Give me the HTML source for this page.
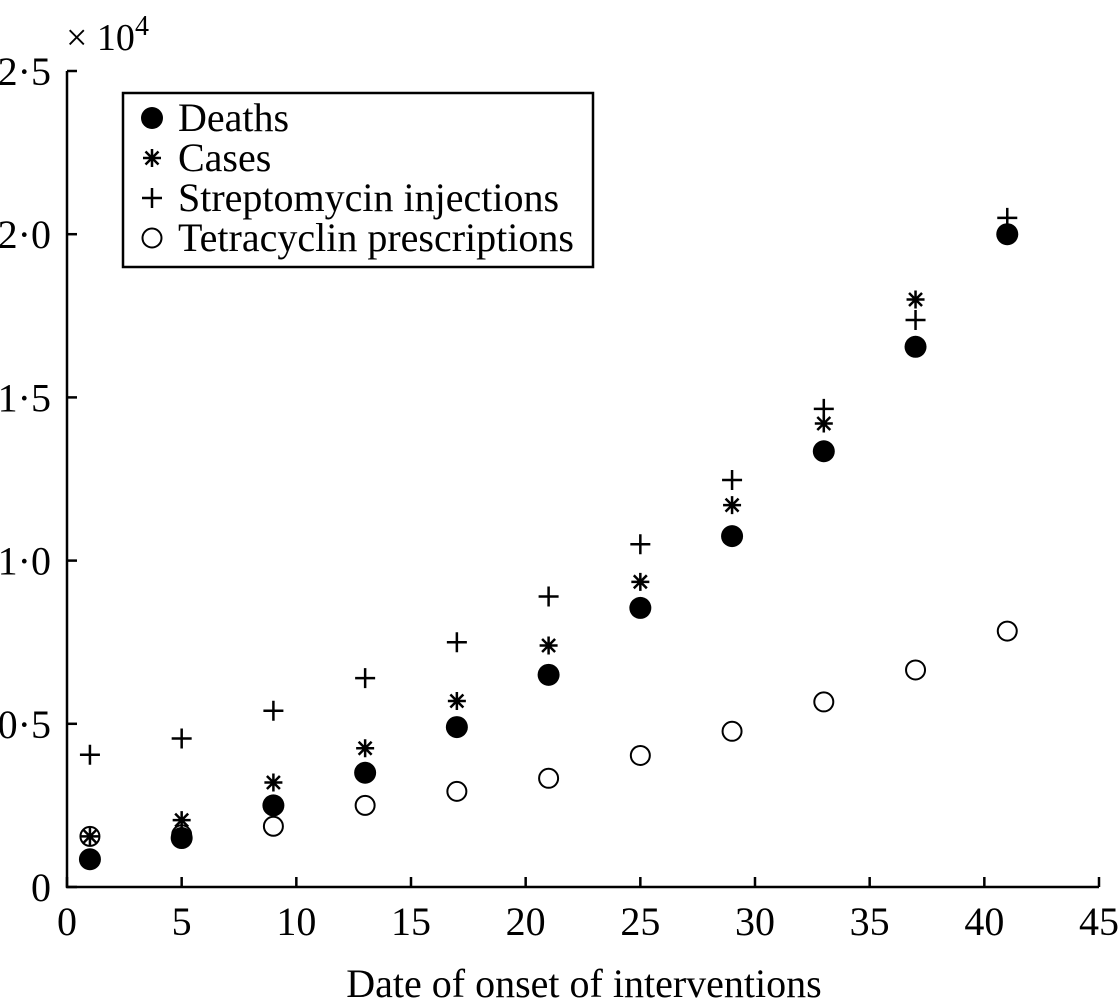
<!DOCTYPE html>
<html><head><meta charset="utf-8"><style>
body{margin:0;background:#fff}
text{font-family:"Liberation Serif",serif;fill:#000}
</style></head><body>
<svg id="c" width="1119" height="1003" xmlns="http://www.w3.org/2000/svg"></svg>
<script>
const xs=[1,5,9,13,17,21,25,29,33,37,41];
const deaths=[0.085,0.15,0.25,0.35,0.49,0.65,0.855,1.075,1.335,1.655,2.0];
const casesX=[1,5,9,13,17,21,25,29,33,37];
const cases=[0.155,0.205,0.32,0.425,0.57,0.74,0.935,1.17,1.42,1.8];
const strep=[0.405,0.455,0.54,0.64,0.75,0.89,1.05,1.247,1.465,1.737,2.05];
const tetra=[0.155,0.16,0.186,0.25,0.293,0.333,0.403,0.477,0.567,0.665,0.784];
const xTicks=[0,5,10,15,20,25,30,35,40,45];
const yTicks=[0,0.5,1.0,1.5,2.0,2.5];
const yLabels=['0','0·5','1·0','1·5','2·0','2·5'];
const NS='http://www.w3.org/2000/svg';
const svg=document.getElementById('c');
const X=v=>67+v*(1099-67)/45, Y=v=>887-v*(887-71)/2.5;
function el(t,a,p){const e=document.createElementNS(NS,t);for(const k in a)e.setAttribute(k,a[k]);(p||svg).appendChild(e);return e;}
const ax=el('g',{stroke:'#000','stroke-width':2.5,fill:'none'});


el('line',{x1:67,y1:71,x2:67,y2:888},ax);
el('line',{x1:66,y1:887,x2:1099,y2:887},ax);
xTicks.forEach(t=>{el('line',{x1:X(t),y1:887,x2:X(t),y2:877},ax);
const tx=el('text',{x:X(t),y:935,'font-size':40,'text-anchor':'middle'});tx.textContent=t;

});
yTicks.forEach((t,i)=>{el('line',{x1:67,y1:Y(t),x2:77,y2:Y(t)},ax);
const tx=el('text',{x:51,y:Y(t)+14,'font-size':40,'text-anchor':'end'});tx.textContent=yLabels[i];

});
const sc=el('text',{x:66,y:50,'font-size':38});sc.innerHTML='× 10<tspan dy="-15" font-size="28">4</tspan>';


const xt=el('text',{x:584,y:997,'font-size':40,'text-anchor':'middle'});xt.textContent='Date of onset of interventions';


function plus(g,x,y){el('path',{d:`M${x-10} ${y}H${x+10}M${x} ${y-10}V${y+10}`,stroke:'#000','stroke-width':2.5,fill:'none'},g);}
function star(g,x,y){el('path',{d:`M${x-9} ${y}H${x+9}M${x} ${y-9}V${y+9}M${x-6.5} ${y-6.5}L${x+6.5} ${y+6.5}M${x-6.5} ${y+6.5}L${x+6.5} ${y-6.5}`,stroke:'#000','stroke-width':2.5,fill:'none'},g);}
function dot(g,x,y){el('circle',{cx:x,cy:y,r:11,fill:'#000'},g);}
function ring(g,x,y){el('circle',{cx:x,cy:y,r:9.5,fill:'none',stroke:'#000','stroke-width':2},g);}
const gt=el('g',{});
xs.forEach((x,i)=>ring(gt,X(x),Y(tetra[i])));
const gd=el('g',{});
xs.forEach((x,i)=>dot(gd,X(x),Y(deaths[i])));
const gc=el('g',{});
casesX.forEach((x,i)=>star(gc,X(x),Y(cases[i])));
const gs=el('g',{});
xs.forEach((x,i)=>plus(gs,X(x),Y(strep[i])));
const lg=el('g',{});
el('rect',{x:123,y:93,width:470,height:174,fill:'#fff',stroke:'#000','stroke-width':2.5},lg);
const names=['Deaths','Cases','Streptomycin injections','Tetracyclin prescriptions'];
const fns=[dot,star,plus,ring];
names.forEach((n,i)=>{const y=118+i*40;fns[i](lg,152,y);
const t=el('text',{x:178,y:y+13,'font-size':40},lg);t.textContent=n;

});
</script>
</body></html>
